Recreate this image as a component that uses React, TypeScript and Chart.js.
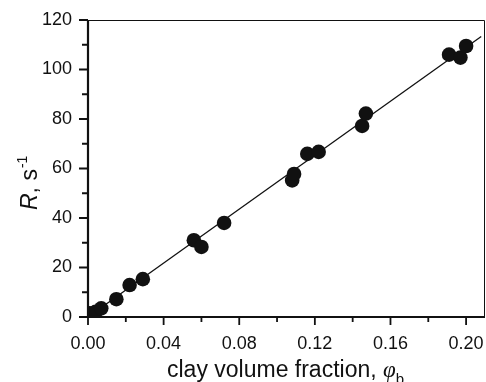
import React, { useEffect, useRef } from "react";
import { Chart, registerables } from "chart.js";

Chart.register(...registerables);

// Measured data (clay volume fraction vs R)
const phiValues = [0.001, 0.004, 0.007, 0.015, 0.022, 0.029, 0.056, 0.060, 0.072, 0.108, 0.109, 0.116, 0.122, 0.145, 0.147, 0.191, 0.197, 0.200];
const rValues = [1.5, 2.1, 3.5, 7.2, 12.9, 15.3, 31.0, 28.3, 38.0, 55.2, 57.8, 65.9, 66.7, 77.2, 82.2, 106.0, 104.8, 109.5];

// Linear fit line endpoints
const fitPhi = [0, 0.208];
const fitR = [0, 113.3];

// Axis ticks
const xMajorTicks = [0, 0.04, 0.08, 0.12, 0.16, 0.2];
const xMinorTicks = [0.02, 0.06, 0.1, 0.14, 0.18];
const yMajorTicks = [0, 20, 40, 60, 80, 100, 120];
const yMinorTicks = [10, 30, 50, 70, 90, 110];

const SANS = '"Liberation Sans", Arial, Helvetica, sans-serif';
const SERIF = '"Liberation Serif", "Times New Roman", serif';

const framePlugin = {
  id: "frame",
  afterDatasetsDraw(chart: any) {
    const { ctx, chartArea: a, scales } = chart;
    const xs = scales.x;
    const ys = scales.y;
    ctx.save();
    ctx.strokeStyle = "#111";
    // thin top / right border
    ctx.lineWidth = 1;
    ctx.beginPath();
    ctx.moveTo(a.left, a.top + 0.5);
    ctx.lineTo(a.right - 0.5, a.top + 0.5);
    ctx.lineTo(a.right - 0.5, a.bottom);
    ctx.stroke();
    // thick left / bottom axes
    ctx.lineWidth = 2.2;
    ctx.beginPath();
    ctx.moveTo(a.left, a.top);
    ctx.lineTo(a.left, a.bottom);
    ctx.lineTo(a.right, a.bottom);
    ctx.stroke();
    // ticks
    ctx.lineWidth = 1.8;
    ctx.beginPath();
    xMajorTicks.forEach((v) => {
      const px = xs.getPixelForValue(v);
      ctx.moveTo(px, a.bottom);
      ctx.lineTo(px, a.bottom + 8);
    });
    xMinorTicks.forEach((v) => {
      const px = xs.getPixelForValue(v);
      ctx.moveTo(px, a.bottom);
      ctx.lineTo(px, a.bottom + 5);
    });
    yMajorTicks.forEach((v) => {
      const py = ys.getPixelForValue(v);
      ctx.moveTo(a.left, py);
      ctx.lineTo(a.left - 9, py);
    });
    yMinorTicks.forEach((v) => {
      const py = ys.getPixelForValue(v);
      ctx.moveTo(a.left, py);
      ctx.lineTo(a.left - 6, py);
    });
    ctx.stroke();

    // X axis title
    ctx.fillStyle = "#111";
    ctx.textBaseline = "alphabetic";
    ctx.textAlign = "left";
    let tx = a.left + 79;
    const ty = 377;
    ctx.font = `23px ${SANS}`;
    const part1 = "clay volume fraction, ";
    ctx.fillText(part1, tx, ty);
    tx += ctx.measureText(part1).width;
    ctx.font = `italic 23px ${SERIF}`;
    ctx.fillText("\u03c6", tx, ty);
    tx += ctx.measureText("\u03c6").width;
    ctx.font = `15px ${SANS}`;
    ctx.fillText("b", tx, ty + 7);

    // Y axis title (rotated)
    ctx.save();
    ctx.translate(37, 210);
    ctx.rotate(-Math.PI / 2);
    let yx = 0;
    ctx.font = `italic 23px ${SANS}`;
    ctx.fillText("R", 0, 0);
    yx += ctx.measureText("R").width;
    ctx.font = `23px ${SANS}`;
    ctx.fillText(", s", yx, 0);
    yx += ctx.measureText(", s").width;
    ctx.font = `14px ${SANS}`;
    ctx.fillText("-1", yx + 1, -10);
    ctx.restore();

    ctx.restore();
  },
};

export default function App() {
  const canvasRef = useRef<HTMLCanvasElement | null>(null);

  useEffect(() => {
    const canvas = canvasRef.current;
    if (!canvas) return;
    const chart = new Chart(canvas, {
      type: "scatter",
      data: {
        datasets: [
          {
            label: "data",
            data: phiValues.map((x, i) => ({ x, y: rValues[i] })),
            pointRadius: 7.3,
            pointHoverRadius: 7.3,
            backgroundColor: "#111",
            borderWidth: 0,
            showLine: false,
          },
          {
            label: "fit",
            data: fitPhi.map((x, i) => ({ x, y: fitR[i] })),
            showLine: true,
            pointRadius: 0,
            borderColor: "#111",
            borderWidth: 1.3,
            fill: false,
          },
        ],
      },
      options: {
        responsive: false,
        animation: false,
        events: [],
        layout: { autoPadding: false, padding: { top: 20, right: 1, left: 0, bottom: 0 } },
        plugins: {
          legend: { display: false },
          tooltip: { enabled: false },
        },
        scales: {
          x: {
            type: "linear",
            min: 0,
            max: 0.21,
            afterFit: (s: any) => {
              s.height = 65;
              s.paddingLeft = 0;
              s.paddingRight = 0;
            },
            afterBuildTicks: (s: any) => {
              s.ticks = xMajorTicks.map((v) => ({ value: v }));
            },
            ticks: {
              font: { family: SANS, size: 18 },
              color: "#111",
              padding: 16,
              maxRotation: 0,
              autoSkip: false,
              callback: (v: any) => Number(v).toFixed(2),
            },
            grid: { display: false, drawTicks: false, tickLength: 0 },
            border: { display: false },
          },
          y: {
            type: "linear",
            min: 0,
            max: 120,
            afterFit: (s: any) => {
              s.width = 88;
              s.paddingTop = 0;
              s.paddingBottom = 0;
            },
            afterBuildTicks: (s: any) => {
              s.ticks = yMajorTicks.map((v) => ({ value: v }));
            },
            ticks: {
              font: { family: SANS, size: 18 },
              color: "#111",
              padding: 16,
              autoSkip: false,
              callback: (v: any) => String(v),
            },
            grid: { display: false, drawTicks: false, tickLength: 0 },
            border: { display: false },
          },
        },
      },
      plugins: [framePlugin],
    });
    return () => chart.destroy();
  }, []);

  return (
    <div style={{ position: "absolute", left: 0, top: 0, width: 486, height: 382, background: "#fff" }}>
      <canvas ref={canvasRef} width={486} height={382} style={{ display: "block" }} />
    </div>
  );
}
